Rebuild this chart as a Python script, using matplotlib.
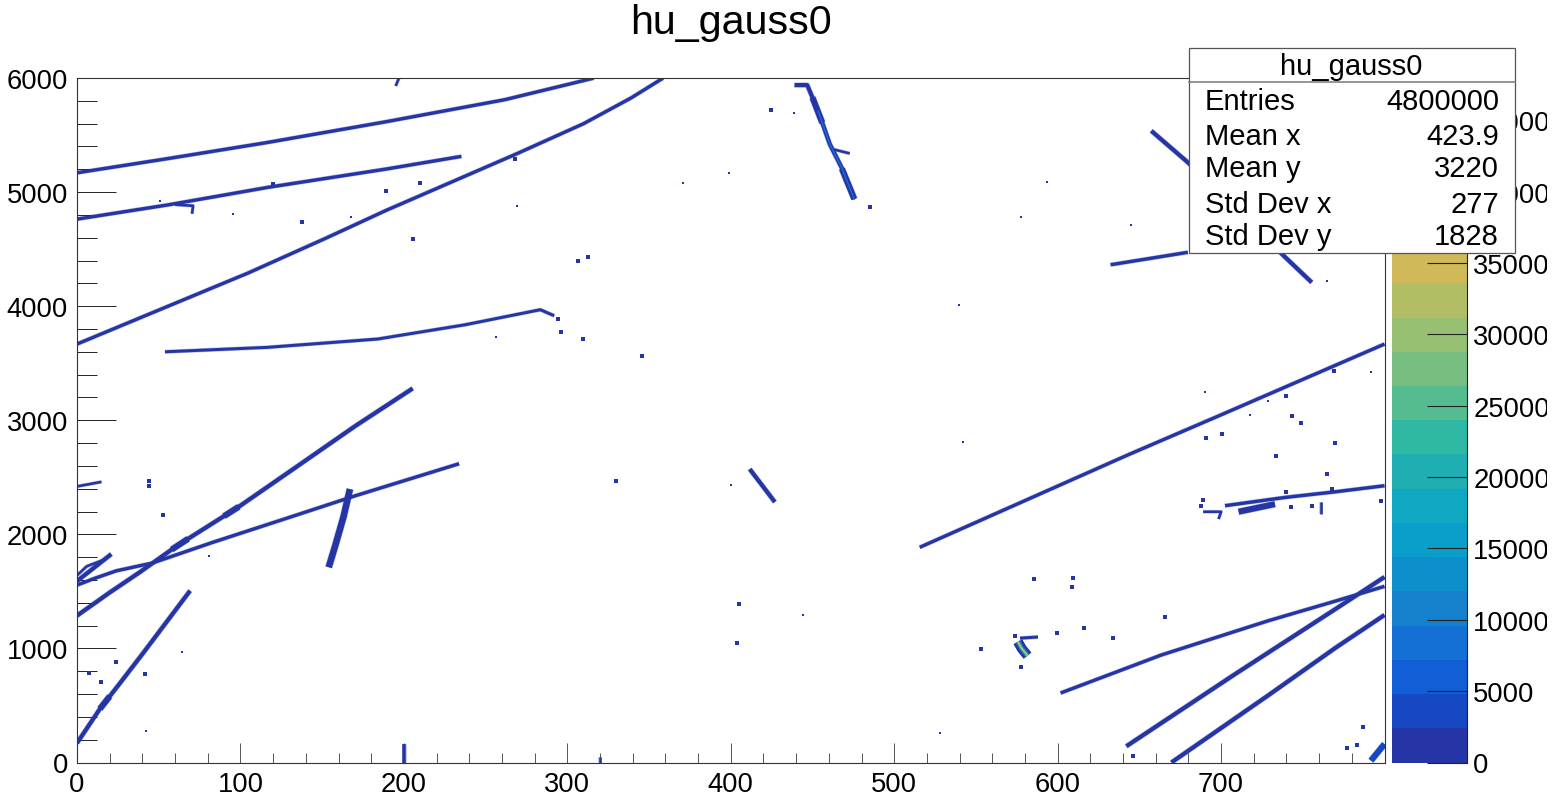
import matplotlib
matplotlib.use('Agg')
import matplotlib.pyplot as plt
import numpy as np
from matplotlib.colors import ListedColormap, BoundaryNorm
from matplotlib.patches import Rectangle
from matplotlib.ticker import MultipleLocator
from matplotlib.transforms import Bbox, TransformedBbox

plt.rcParams['font.family'] = ['Liberation Sans', 'DejaVu Sans']

W, H = 1563, 803

# palette bands, bottom to top
band_colors = ['#2635A5', '#1548C2', '#115ED6', '#1470D4', '#1580CC', '#0C8FCA', '#0A9FCB',
               '#0FA8C2', '#1FAFB2', '#2FB8A4', '#55BC90', '#78BE80', '#98C072', '#B3BD66',
               '#D0B958', '#E8B94A', '#F9C63C', '#F8D82C', '#F5EA1F', '#F9FB0E']
z_max = 47970
z_ticks = [0, 5000, 10000, 15000, 20000, 25000, 30000, 35000, 40000, 45000]

# tracks (x, y)
track_a_x = [0, 56.2, 116.6, 189.2, 261.8, 316.2]
track_a_y = [5169, 5295, 5435, 5617, 5810, 5999]
track_b_x = [0, 56.2, 116.6, 189.2, 235.2]
track_b_y = [4763, 4889, 5041, 5202, 5313]
track_c_x = [0, 44, 104.6, 152.9, 189.2, 237.5, 268.9, 310, 339, 358.6]
track_c_y = [3668, 3930, 4290, 4600, 4840, 5140, 5335, 5600, 5825, 5999]
track_d_x = [53.8, 116.6, 184, 237.5, 283.5, 292]
track_d_y = [3600, 3639, 3712, 3837, 3969, 3916]
track_e_x = [0, 20, 38.5, 61.2, 98.4, 131.1, 170.5, 205.4]
track_e_y = [1287, 1490, 1669, 1900, 2236, 2560, 2952, 3279]
track_f_x = [0, 10, 24, 46, 83.1, 126.8, 170.5, 233.8]
track_f_y = [1555, 1610, 1680, 1748, 1930, 2134, 2339, 2619]
track_g_x = [154, 158, 163, 167]
track_g_y = [1711, 1900, 2150, 2397]
track_h_x = [0, 8, 21]
track_h_y = [1590, 1680, 1827]
track_h2_x = [0, 15]
track_h2_y = [2420, 2460]
track_h3_x = [0, 6, 17]
track_h3_y = [1640, 1720, 1780]
track_i_x = [0, 14, 26, 40.5, 69.2]
track_i_y = [170, 470, 690, 960, 1506]
track_j_x = [515.6, 642.8, 698, 800]
track_j_y = [1886, 2695, 3035, 3668]
track_k_x = [702.4, 739.5, 770, 800]
track_k_y = [2251, 2324, 2373, 2426]
track_k2_x = [710.7, 733]
track_k2_y = [2198, 2265]
track_l_x = [601.8, 663.4, 729, 770, 800]
track_l_y = [609, 942, 1243, 1415, 1544]
track_m_x = [642, 708.7, 770, 800]
track_m_y = [142, 776, 1345, 1626]
track_n_x = [669.6, 729, 770, 800]
track_n_y = [0, 590, 1005, 1293]
track_o_x = [791.7, 800]
track_o_y = [16, 162]
track_p_x = [439, 446.8, 453.4, 460.6, 467.8, 475.6]
track_p_y = [5938, 5938, 5713, 5420, 5216, 4939]
track_p2_x = [462, 472.8]
track_p2_y = [5377, 5339]
track_q_x = [657.3, 679.7, 738.3, 755.5]
track_q_y = [5537, 5260, 4442, 4208]
track_r_x = [632.4, 679.7]
track_r_y = [4363, 4472]
track_s_x = [411.6, 427]
track_s_y = [2572, 2283]
track_t_x = [200, 200]
track_t_y = [0, 160]
track_u_x = [320, 320]
track_u_y = [0, 50]
track_v_x = [689, 700, 698.5]
track_v_y = [2198, 2198, 2134]
track_w_x = [761, 761]
track_w_y = [2283, 2178]
track_y_x = [195, 197]
track_y_y = [5930, 5999]
track_z_x = [60, 71, 70.4]
track_z_y = [4890, 4880, 4810]
arm_x = [577, 588]
arm_y = [1090, 1100]

# short stretches where a track gets fatter
fat_e1_x = [90, 99]
fat_e1_y = [2160, 2242]
fat_e2_x = [58, 68]
fat_e2_y = [1867, 1961]
fat_i_x = [14, 20]
fat_i_y = [470, 580]
fat_p1_x = [450, 456]
fat_p1_y = [5829, 5607]
fat_p2_x = [468, 475.6]
fat_p2_y = [5205, 4939]

# brighter core of the busy tracks
core_x = [453.4, 460.6, 467.8, 475.6]
core_y = [5713, 5420, 5216, 4939]

# the hot spot near (580, 1000)
spot_x = [575.7, 578, 581.6]
spot_y = [1059, 1000, 936]

# larger clusters
blob_x = [189.2, 209.8, 205.4, 137.9, 306.4, 312.5, 309.7, 346, 296.3, 44, 44, 52.5, 329.7, 24, 7.5, 14.5,
          41.6, 485.2, 424.5, 405, 403.7, 585.3, 609.7, 608.6, 666, 616.3, 599.8, 634, 553, 574, 577.7,
          646, 786.6, 783, 777, 294, 687.5, 689, 739.5, 742.5, 755.5, 768, 798, 765, 733.5, 770, 690.5,
          700.8, 743.5, 748.7, 740, 769, 120.2, 268]
blob_y = [5006, 5076, 4591, 4734, 4398, 4433, 3709, 3565, 3770, 2423, 2470, 2169, 2470, 881, 784, 708,
          776, 4871, 5719, 1389, 1047, 1608, 1617, 1535, 1275, 1179, 1137, 1091, 992, 1111, 834,
          60, 311, 151, 127, 3887, 2251, 2300, 2370, 2242, 2251, 2397, 2292, 2528, 2689, 2800, 2844,
          2882, 3040, 2975, 3215, 3431, 5070, 5290]

# single small dots
dot_x = [95.4, 269, 371, 256.2, 42, 64, 81, 439, 399, 593.3, 577.8, 644.7, 539.5, 765, 792, 690, 717.5,
         729, 542, 528, 444, 400, 50.8, 167.4]
dot_y = [4810, 4880, 5076, 3732, 279, 968, 1810, 5695, 5166, 5085, 4778, 4713, 4009, 4223, 3420, 3247, 3048,
         3171, 2808, 258, 1293, 2432, 4920, 4780]

stat_names = ['Entries', 'Mean x', 'Mean y', 'Std Dev x', 'Std Dev y']
stat_values = ['4800000', '423.9', '3220', '277', '1828']
stat_rows = [102, 137, 169, 205, 237]

fig = plt.figure(figsize=(W / 100, H / 100), dpi=100)


def ax_rect(x0, y0, x1, y1):
    return [x0 / W, 1 - y1 / H, (x1 - x0) / W, (y1 - y0) / H]


cmap = ListedColormap(band_colors)
levels = np.linspace(0, z_max, len(band_colors) + 1)
norm = BoundaryNorm(levels, cmap.N)

# main histogram
ax = fig.add_axes(ax_rect(77, 79, 1384.5, 763.5))
ax.set_xlim(0, 800)
ax.set_ylim(0, 6000)


def draw_track(xs, ys, width=3.8, band=0):
    lw = width * 0.72
    ax.plot(xs, ys, color='#BBC3E8', lw=lw + 0.8, solid_capstyle='butt', solid_joinstyle='round', zorder=1)
    ax.plot(xs, ys, color=band_colors[band], lw=lw, solid_capstyle='butt', solid_joinstyle='round', zorder=2)


for xs, ys in [(track_a_x, track_a_y), (track_b_x, track_b_y), (track_c_x, track_c_y), (track_j_x, track_j_y),
               (track_k_x, track_k_y), (track_l_x, track_l_y), (track_r_x, track_r_y), (track_f_x, track_f_y)]:
    draw_track(xs, ys, 3.4)
draw_track(track_d_x, track_d_y, 3)
for xs, ys in [(track_e_x, track_e_y), (track_i_x, track_i_y), (track_m_x, track_m_y), (track_n_x, track_n_y),
               (track_q_x, track_q_y), (track_s_x, track_s_y), (track_p_x, track_p_y), (track_h_x, track_h_y)]:
    draw_track(xs, ys, 4.2)
draw_track(track_g_x, track_g_y, 6.5)
draw_track(track_k2_x, track_k2_y, 6)
draw_track(track_o_x, track_o_y, 6, band=1)
draw_track(track_t_x, track_t_y, 3.5)
for xs, ys in [(track_h2_x, track_h2_y), (track_h3_x, track_h3_y), (track_p2_x, track_p2_y), (track_u_x, track_u_y),
               (track_v_x, track_v_y), (track_w_x, track_w_y), (track_y_x, track_y_y), (track_z_x, track_z_y)]:
    draw_track(xs, ys, 2.6)
for xs, ys in [(fat_e1_x, fat_e1_y), (fat_e2_x, fat_e2_y), (fat_i_x, fat_i_y), (fat_p1_x, fat_p1_y),
               (fat_p2_x, fat_p2_y)]:
    draw_track(xs, ys, 6)
ax.plot(core_x, core_y, color=band_colors[3], lw=1, zorder=3)

ax.scatter(blob_x, blob_y, s=9, marker='s', color=band_colors[0], linewidths=0, zorder=2)
ax.scatter(dot_x, dot_y, s=2.2, marker='s', color=band_colors[0], linewidths=0, zorder=2)

# hot spot, outer to inner bands
draw_track(arm_x, arm_y, 3)
for band, width in [(0, 10), (3, 5), (9, 3), (14, 1.5)]:
    ax.plot(spot_x, spot_y, color=band_colors[band], lw=width * 0.72, solid_capstyle='butt', zorder=4)

ax.set_xticks(range(0, 800, 100))
ax.set_yticks(range(0, 7000, 1000))
ax.xaxis.set_minor_locator(MultipleLocator(20))
ax.yaxis.set_minor_locator(MultipleLocator(200))
ax.tick_params(axis='x', which='major', direction='in', length=14.4, width=0.7, color='#555555', labelsize=19.7, pad=6)
ax.tick_params(axis='x', which='minor', direction='in', length=7.2, width=0.7, color='#555555')
ax.tick_params(axis='y', which='major', direction='in', length=28, width=0.7, color='#222222', labelsize=19.7, pad=6.5)
ax.tick_params(axis='y', which='minor', direction='in', length=14.4, width=0.7, color='#222222')
for side in ax.spines:
    ax.spines[side].set_linewidth(0.8)
    ax.spines[side].set_color('#333333')

# palette
cax = fig.add_axes(ax_rect(1392, 79, 1466.5, 763.5))
cax.pcolormesh([0, 1], levels, np.array(levels[:-1] + 1).reshape(-1, 1), cmap=cmap, norm=norm)
cax.set_xticks([])
cax.yaxis.tick_right()
cax.set_yticks(z_ticks)
cax.set_ylim(0, z_max)
cax.tick_params(axis='y', direction='in', length=28.5, width=0.8, color='#222222', labelsize=19.7, pad=4.8)
for side in ['left', 'top', 'bottom']:
    cax.spines[side].set_visible(False)
cax.spines['right'].set_linewidth(0.8)
cax.spines['right'].set_color('#222222')
clip = TransformedBbox(Bbox([[0, 0], [1547 / W, 1]]), fig.transFigure)
for label in cax.get_yticklabels():
    label.set_clip_on(True)
    label.set_clip_box(clip)

# title and stats box sit on top of everything
over = fig.add_axes([0, 0, 1, 1], zorder=10)
over.set_xlim(0, W)
over.set_ylim(H, 0)
over.axis('off')
over.patch.set_alpha(0)
over.text(731, 23, 'hu_gauss0', fontsize=29.7, ha='center', va='center')
over.add_patch(Rectangle((1188.5, 49), 326.5, 205.3, facecolor='white', edgecolor='#555555', lw=0.9))
over.plot([1188.5, 1515], [82.7, 82.7], color='#777777', lw=1.1)
over.text(1351.5, 67, 'hu_gauss0', fontsize=21, ha='center', va='center')
for name, value, row in zip(stat_names, stat_values, stat_rows):
    over.text(1205, row, name, fontsize=21, ha='left', va='center')
    over.text(1499, row, value, fontsize=21, ha='right', va='center')

fig.savefig('out.png', dpi=100)
